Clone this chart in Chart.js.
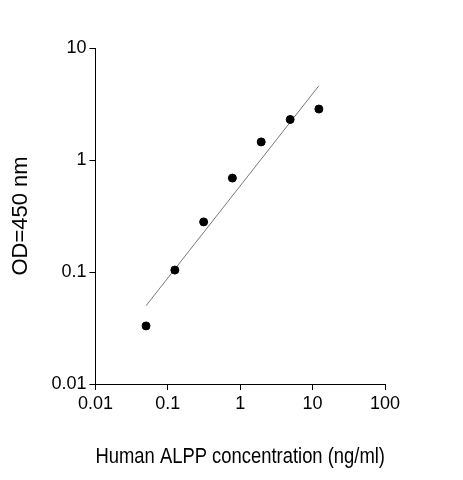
<!DOCTYPE html>
<html><head><script src="https://cdn.jsdelivr.net/npm/chart.js@4"></script>
<style>body{margin:0;background:#fff}#w{width:463px;height:480px}</style></head>
<body><div id="w"><canvas id="c"></canvas></div>
<script>
const conc=[0.05,0.125,0.3125,0.78,1.95,4.9,12.2];
const od=[0.033,0.104,0.28,0.69,1.45,2.3,2.85];
const fitX=[0.05,12.2];
const fitY=[0.05,4.6];
const xTicks=[0.01,0.1,1,10,100];
const yTicks=[0.01,0.1,1,10];
const f={family:'Arial, Liberation Sans',size:18};
const g={display:true,drawOnChartArea:false,drawTicks:true,tickLength:6,tickColor:'#000'};
new Chart(document.getElementById('c'),{
 data:{datasets:[
  {type:'scatter',data:conc.map((x,i)=>({x,y:od[i]})),backgroundColor:'#000',borderColor:'#000',pointRadius:4},
  {type:'line',data:fitX.map((x,i)=>({x,y:fitY[i]})),borderColor:'#555',borderWidth:0.8,pointRadius:0}
 ]},
 options:{responsive:true,maintainAspectRatio:false,animation:false,
  layout:{padding:{left:4,right:78,top:48,bottom:6}},
  plugins:{legend:{display:false},tooltip:{enabled:false}},
  scales:{
   x:{type:'logarithmic',min:0.01,max:100,
    afterBuildTicks:a=>{a.ticks=xTicks.map(v=>({value:v}))},
    ticks:{callback:v=>String(v),color:'#000',font:f,maxRotation:0},
    grid:g,border:{color:'#000'},
    title:{display:true,text:'Human ALPP concentration (ng/ml)',color:'#000',font:{family:'Arial, Liberation Sans',size:22},padding:{top:26}}},
   y:{type:'logarithmic',min:0.01,max:10,
    afterBuildTicks:a=>{a.ticks=yTicks.map(v=>({value:v}))},
    ticks:{callback:v=>String(v),color:'#000',font:f},
    grid:g,border:{color:'#000'},
    title:{display:true,text:'OD=450 nm',color:'#000',font:{family:'Arial, Liberation Sans',size:22},padding:{bottom:14}}}
  }}
});
</script></body></html>
